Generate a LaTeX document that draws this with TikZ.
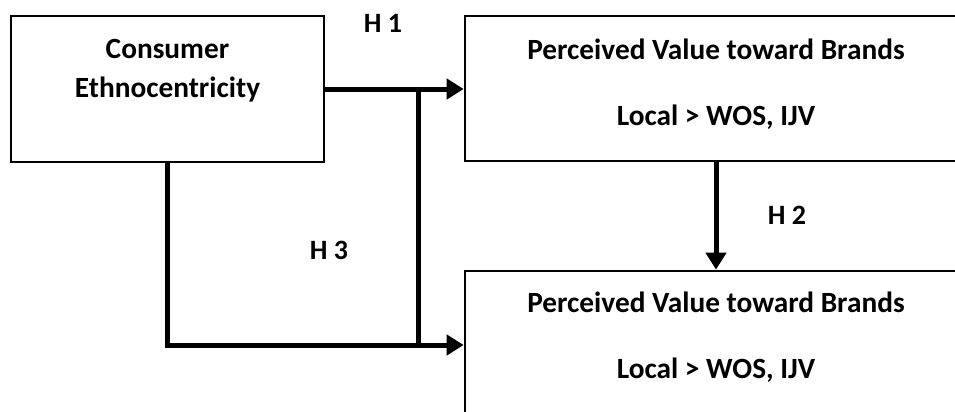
\documentclass[tikz,border=0pt]{standalone}
\usepackage{fontspec}
\setmainfont{Carlito}
\usetikzlibrary{arrows.meta}
\begin{document}
\begin{tikzpicture}[x=0.75pt,y=-0.75pt,
  box/.style={draw,line width=2pt,rectangle,inner sep=0pt},
  txt/.style={font=\fontsize{22}{26}\selectfont\bfseries,align=center,inner sep=0pt},
  lab/.style={font=\fontsize{21}{25}\selectfont\bfseries,inner sep=0pt},
  conn/.style={line width=3.75pt,line join=miter},
  tip/.style={-{Triangle[length=12.75pt,width=15pt]}}]
\useasboundingbox (0,0) rectangle (955,411);
\clip (0,0) rectangle (955,411);
% boxes
\node[box,minimum width=234.75pt,minimum height=109.5pt] (A) at (167.5,89) {};
\node[box,minimum width=376.5pt,minimum height=108.75pt] (B) at (716,88.5) {};
\node[box,minimum width=376.5pt,minimum height=108.75pt] (C) at (716,343.5) {};
% box texts
\node[txt] (a1) at (167.5,49) {Consumer};
\node[txt] (a2) at (167.5,90) {Ethnocentricity};
\node[txt] (b1) at (716,49) {Perceived Value toward Brands};
\node[txt] (b2) at (716,117) {Local > WOS, IJV};
\node[txt] (c1) at (716,302) {Perceived Value toward Brands};
\node[txt] (c2) at (716,370) {Local > WOS, IJV};
% hypothesis labels
\node[lab] (h1) at (383,23) {H 1};
\node[lab] (h2) at (787,215) {H 2};
\node[lab] (h3) at (329,250) {H 3};
% connector points
\coordinate (j1) at (418,89);
\coordinate (j2) at (418,345);
\coordinate (cin) at (C.west |- j2);
% connectors
\draw[conn,tip] (A.east |- j1) -- (B.west |- j1);
\draw[conn] (j1) -- (j2);
\draw[conn,tip] (A.south) |- (cin);
\draw[conn,tip] (B.south) -- (C.north);
\end{tikzpicture}
\end{document}
